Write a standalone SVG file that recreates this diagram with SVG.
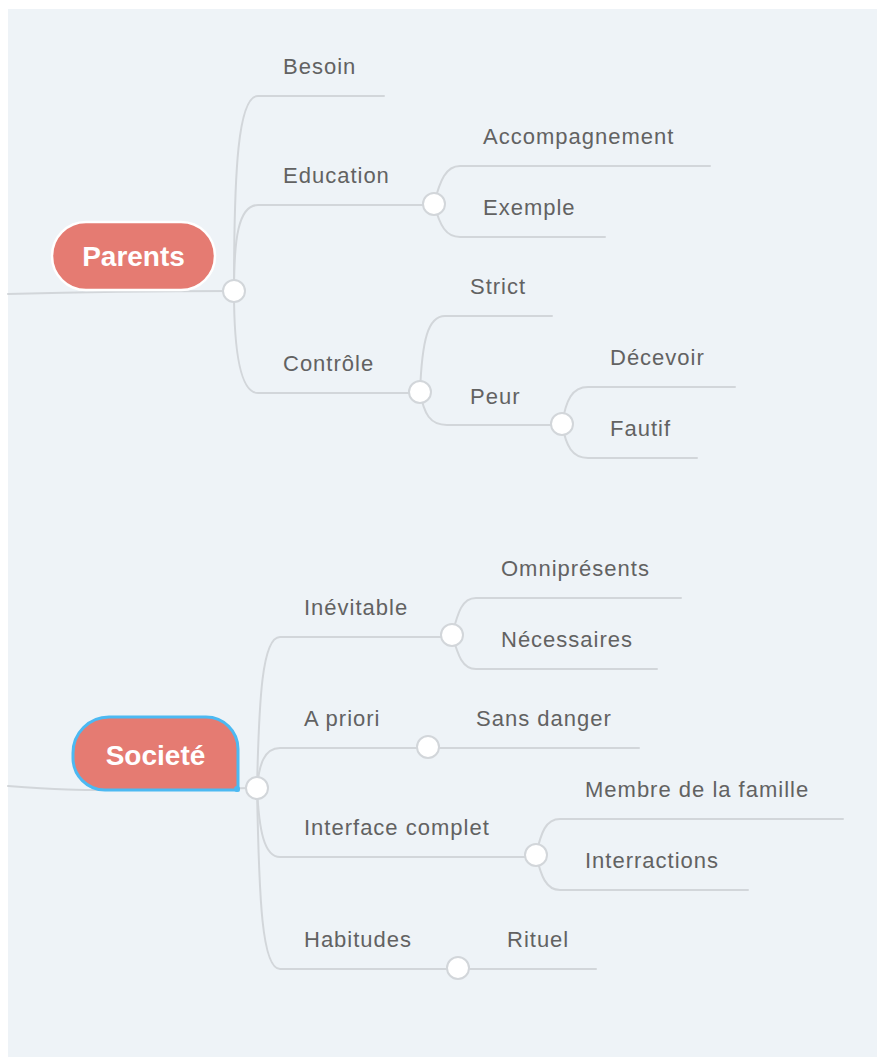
<svg xmlns="http://www.w3.org/2000/svg" width="877" height="1057" viewBox="0 0 877 1057">
<style>
.ln{fill:none;stroke:#d2d6da;stroke-width:2;stroke-linecap:round}
.dot{fill:#ffffff;stroke:#d2d6da;stroke-width:2}
.lbl{font-family:"Liberation Sans",Arial,sans-serif;font-size:22px;letter-spacing:1px;fill:#626262}
.root{font-family:"Liberation Sans",Arial,sans-serif;font-size:28px;font-weight:bold;fill:#ffffff}
</style>
<rect x="0" y="0" width="877" height="1057" fill="#ffffff"/>
<rect x="8" y="9" width="869" height="1048" fill="#eef3f7"/>
<g id="connectors">
<path class="ln" d="M8,294 C80,292 150,291 234,291"/>
<path class="ln" d="M234,291 C234,170 238,96 258,96 L384,96"/>
<path class="ln" d="M234,291 C234,240 238,205 258,205 L434,205"/>
<path class="ln" d="M234,291 C234,340 238,393 258,393 L420,393"/>
<path class="ln" d="M434,204 C440,180 446,166 460,166 L710,166"/>
<path class="ln" d="M434,204 C440,226 446,237 460,237 L605,237"/>
<path class="ln" d="M420,392 C422,340 428,316 445,316 L552,316"/>
<path class="ln" d="M420,392 C424,414 430,425 447,425 L562,425"/>
<path class="ln" d="M562,424 C566,400 572,387 588,387 L735,387"/>
<path class="ln" d="M562,424 C566,446 572,458 588,458 L697,458"/>
<path class="ln" d="M8,786 C60,790 80,790 110,790 L257,788"/>
<path class="ln" d="M257,788 C259,700 262,637 280,637 L452,637"/>
<path class="ln" d="M257,788 C259,765 264,748 280,748 L428,748"/>
<path class="ln" d="M257,788 C259,830 264,857 280,857 L536,857"/>
<path class="ln" d="M257,788 C259,900 262,969 280,969 L458,969"/>
<path class="ln" d="M452,635 C458,612 462,598 476,598 L681,598"/>
<path class="ln" d="M452,635 C458,655 462,669 476,669 L657,669"/>
<path class="ln" d="M428,748 L639,748"/>
<path class="ln" d="M536,855 C541,832 546,819 560,819 L843,819"/>
<path class="ln" d="M536,855 C541,876 546,890 560,890 L748,890"/>
<path class="ln" d="M458,969 L596,969"/>
</g>
<g id="node-parents">
<rect x="52" y="222" width="163" height="68" rx="34" ry="34" fill="#e57b72" stroke="#ffffff" stroke-width="2.5"/>
<text class="root" x="133.5" y="266" text-anchor="middle">Parents</text>
<circle class="dot" cx="234" cy="291" r="11"/>
</g>
<g id="node-besoin"><text class="lbl" x="283" y="74">Besoin</text></g>
<g id="node-education"><text class="lbl" x="283" y="183">Education</text><circle class="dot" cx="434" cy="204" r="11"/></g>
<g id="node-accompagnement"><text class="lbl" x="483" y="144">Accompagnement</text></g>
<g id="node-exemple"><text class="lbl" x="483" y="215">Exemple</text></g>
<g id="node-controle"><text class="lbl" x="283" y="371">Contrôle</text><circle class="dot" cx="420" cy="392" r="11"/></g>
<g id="node-strict"><text class="lbl" x="470" y="294">Strict</text></g>
<g id="node-peur"><text class="lbl" x="470" y="404">Peur</text><circle class="dot" cx="562" cy="424" r="11"/></g>
<g id="node-decevoir"><text class="lbl" x="610" y="365">Décevoir</text></g>
<g id="node-fautif"><text class="lbl" x="610" y="436">Fautif</text></g>
<g id="node-societe">
<path d="M109,717 L206,717 A32,32 0 0 1 238,749 L238,790 L105,790 A32,32 0 0 1 73,758 L73,753 A36,36 0 0 1 109,717 Z" fill="#e57b72" stroke="#4cb9f2" stroke-width="3"/>
<circle cx="237" cy="789" r="3" fill="#4cb9f2"/>
<text class="root" x="155.5" y="765" text-anchor="middle">Societé</text>
<circle class="dot" cx="257" cy="788" r="11"/>
</g>
<g id="node-inevitable"><text class="lbl" x="304" y="615">Inévitable</text><circle class="dot" cx="452" cy="635" r="11"/></g>
<g id="node-omnipresents"><text class="lbl" x="501" y="576">Omniprésents</text></g>
<g id="node-necessaires"><text class="lbl" x="501" y="647">Nécessaires</text></g>
<g id="node-apriori"><text class="lbl" x="304" y="726">A priori</text><circle class="dot" cx="428" cy="747" r="11"/></g>
<g id="node-sansdanger"><text class="lbl" x="476" y="726">Sans danger</text></g>
<g id="node-interface"><text class="lbl" x="304" y="835">Interface complet</text><circle class="dot" cx="536" cy="855" r="11"/></g>
<g id="node-membre"><text class="lbl" x="585" y="797">Membre de la famille</text></g>
<g id="node-interractions"><text class="lbl" x="585" y="868">Interractions</text></g>
<g id="node-habitudes"><text class="lbl" x="304" y="947">Habitudes</text><circle class="dot" cx="458" cy="968" r="11"/></g>
<g id="node-rituel"><text class="lbl" x="507" y="947">Rituel</text></g>
</svg>
